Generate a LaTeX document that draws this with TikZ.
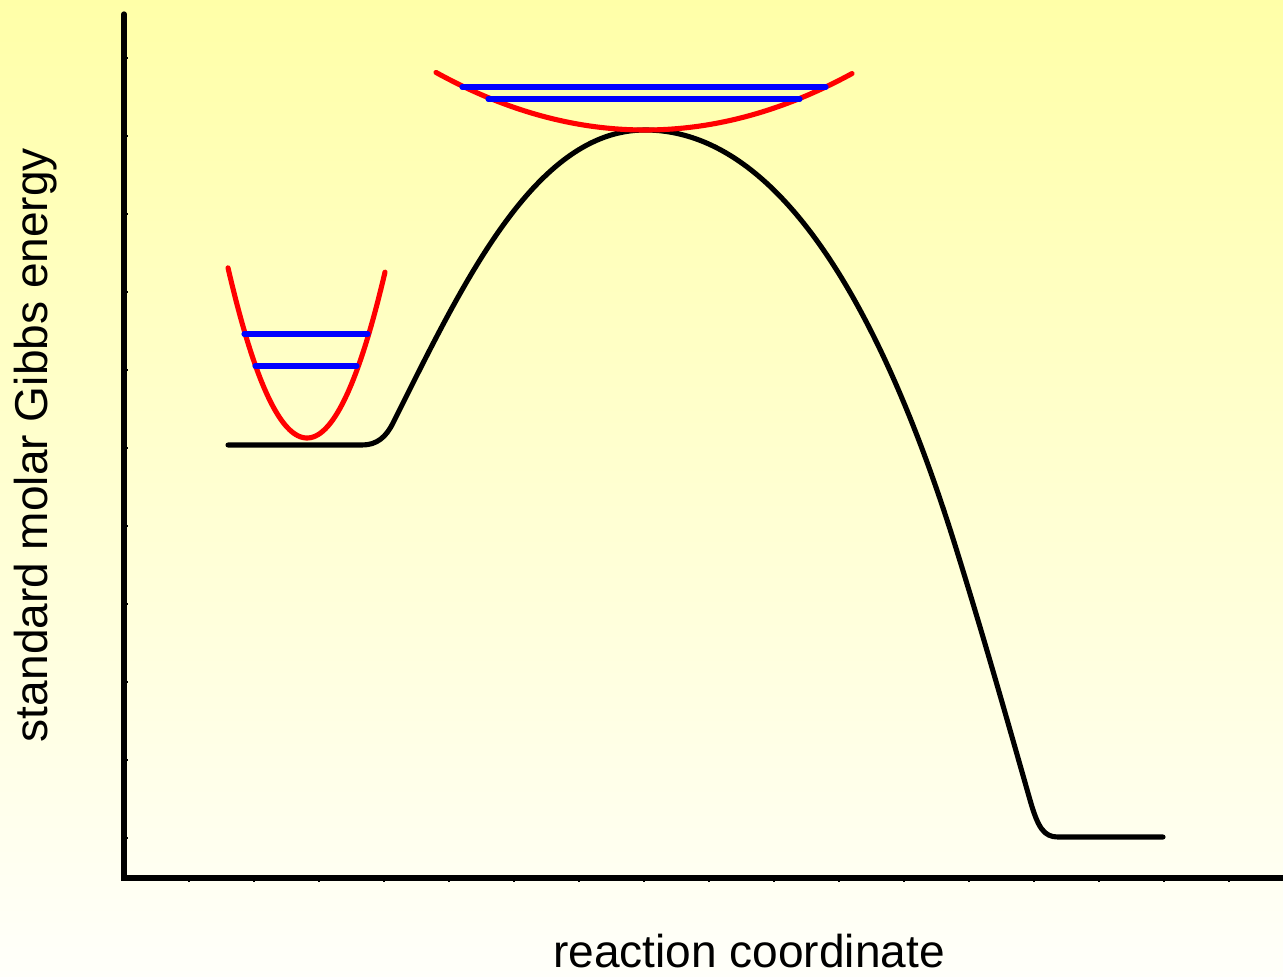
\documentclass[tikz,border=0pt]{standalone}
\usepackage{fontspec}
\setmainfont{Liberation Sans}
\begin{document}
\begin{tikzpicture}[x=0.01cm,y=-0.01cm,
  axisline/.style={line width=1.5pt,line cap=round,line join=miter},
  tickline/.style={line width=0.35pt},
  energy/.style={line width=1.45pt,line cap=round,line join=round},
  well/.style={line width=1.45pt,red,line cap=round},
  level/.style={line width=1.45pt,blue,line cap=round},
  lbl/.style={font=\fontsize{13.1}{16}\selectfont,inner sep=0pt}]
\useasboundingbox (0,0) rectangle (1283,976);
\shade[top color={rgb,255:red,255;green,255;blue,168},bottom color={rgb,255:red,255;green,255;blue,250}] (0,0) rectangle (1283,976);
% axes
\draw[axisline] (124,14) -- (124,878) -- (1290,878);
\foreach \k in {1,...,17} {\draw[tickline] (124+65*\k,878) -- (124+65*\k,882);}
\foreach \k in {0,...,10} {\draw[tickline] (124,838-78*\k) -- (128,838-78*\k);}
% energy profile
\draw[energy] (228,445) -- (362,445)
  .. controls (377,445) and (386,437) .. (393,423)
  .. controls (463,283) and (535,130) .. (645,130)
  .. controls (795,130) and (895,353) .. (955,545)
  .. controls (985,641) and (1010,730) .. (1030,800)
  .. controls (1038,828) and (1044,837) .. (1058,837)
  -- (1163,837);
% left well
\draw[well] plot[domain=228:385,samples=80] (\x,{438-168*((\x-307)/78.5)^2});
\draw[level] (244,334) -- (368,334);
\draw[level] (255,366) -- (357,366);
% transition-state well
\draw[well] plot[domain=436:852,samples=80] (\x,{130-57*((\x-645)/208)^2});
\draw[level] (462,87) -- (826,87);
\draw[level] (488,99) -- (800,99);
% labels
\node[lbl,rotate=90] (ylabel) at (36,445) {standard molar Gibbs energy};
\node[lbl,anchor=base] (xlabel) at (749,967) {reaction coordinate};
\end{tikzpicture}
\end{document}
